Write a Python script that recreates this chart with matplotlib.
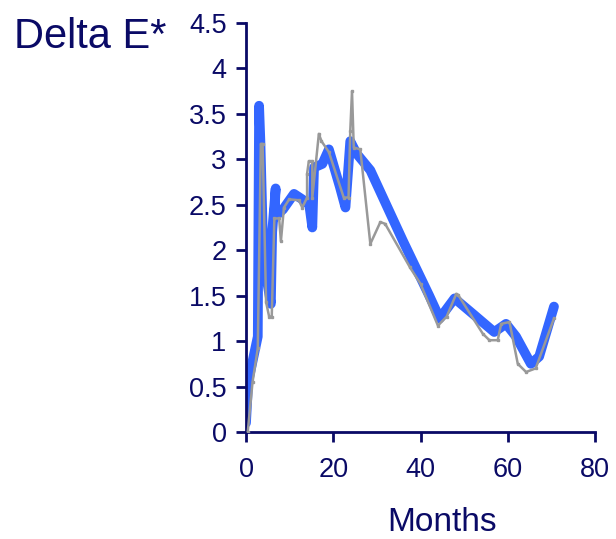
import matplotlib
matplotlib.use("Agg")
import matplotlib.pyplot as plt

# Blue series (thick)
blue_months = [0, 0.5, 2.7, 3.0, 3.3, 4.0, 5.7, 6.0, 6.8, 6.5, 8.5, 11.0, 12.9, 14.5, 15.2, 15.6, 17.5, 19.0, 21.5, 22.8, 23.9, 25.4, 28.5, 36.0, 42.0, 44.4, 47.8, 52.0, 56.9, 59.6, 61.9, 65.3, 67.2, 70.6]
blue_values = [0.1, 0.55, 1.05, 3.59, 3.2, 1.9, 1.41, 2.2, 2.68, 2.36, 2.45, 2.62, 2.56, 2.5, 2.25, 2.91, 2.95, 3.11, 2.7, 2.47, 3.2, 3.06, 2.88, 2.1, 1.5, 1.25, 1.47, 1.3, 1.10, 1.19, 1.05, 0.75, 0.83, 1.38]

# Gray series (thin)
gray_months = [0.4, 1.5, 2.7, 3.4, 3.8, 4.6, 5.3, 5.9, 6.5, 7.6, 8.0, 8.7, 9.9, 12.1, 12.9, 14.0, 14.0, 14.4, 15.2, 15.2, 16.7, 17.3, 19.0, 22.4, 23.5, 23.9, 24.3, 24.7, 26.2, 28.5, 30.8, 31.9, 37.6, 40.0, 44.0, 46.0, 48.2, 48.6, 54.3, 55.8, 57.7, 58.5, 60.4, 62.3, 64.2, 66.4, 70.6]
gray_values = [0.0, 0.55, 0.92, 3.17, 3.17, 1.43, 1.27, 1.27, 2.35, 2.35, 2.1, 2.47, 2.56, 2.55, 2.47, 2.58, 2.84, 2.98, 2.98, 2.58, 3.28, 3.2, 3.08, 2.58, 2.58, 3.31, 3.75, 3.13, 3.11, 2.07, 2.31, 2.29, 1.81, 1.63, 1.17, 1.27, 1.52, 1.51, 1.08, 1.01, 1.01, 1.19, 1.21, 0.75, 0.66, 0.70, 1.25]

x_ticks = [0, 20, 40, 60, 80]
y_ticks = [0, 0.5, 1, 1.5, 2, 2.5, 3, 3.5, 4, 4.5]
y_ticklabels = ["0", "0.5", "1", "1.5", "2", "2.5", "3", "3.5", "4", "4.5"]

navy = "#0a0a66"
plt.rcParams['font.family'] = ['Liberation Sans', 'DejaVu Sans']

fig = plt.figure(figsize=(6.16, 5.39), dpi=100)
ax = fig.add_axes([246/616, 1-432/539, (595-246)/616, (432-23)/539])

ax.plot(blue_months, blue_values, color="#3366ff", lw=7, solid_capstyle="round", solid_joinstyle="round", zorder=2)
ax.plot(gray_months, gray_values, color="#999999", lw=1.8, marker="s", ms=1.6, zorder=3)

ax.set_xlim(0, 80)
ax.set_ylim(0, 4.5)
ax.set_xticks(x_ticks)
ax.set_yticks(y_ticks)
ax.set_yticklabels(y_ticklabels)
for s in ["top", "right"]:
    ax.spines[s].set_visible(False)
for s in ["left", "bottom"]:
    ax.spines[s].set_color(navy)
    ax.spines[s].set_linewidth(2)
ax.tick_params(axis="both", direction="out", length=7, width=2, color=navy,
               labelcolor=navy, labelsize=19.5)
ax.tick_params(axis="y", pad=7)
ax.tick_params(axis="x", pad=11)
ax.patch.set_visible(False)

fig.text(14/616, 1-48/539, "Delta E*", fontsize=30, color=navy, ha="left", va="baseline")
fig.text(442/616, 1-531/539, "Months", fontsize=24, color=navy, ha="center", va="baseline")

fig.savefig("out.png", dpi=100)
